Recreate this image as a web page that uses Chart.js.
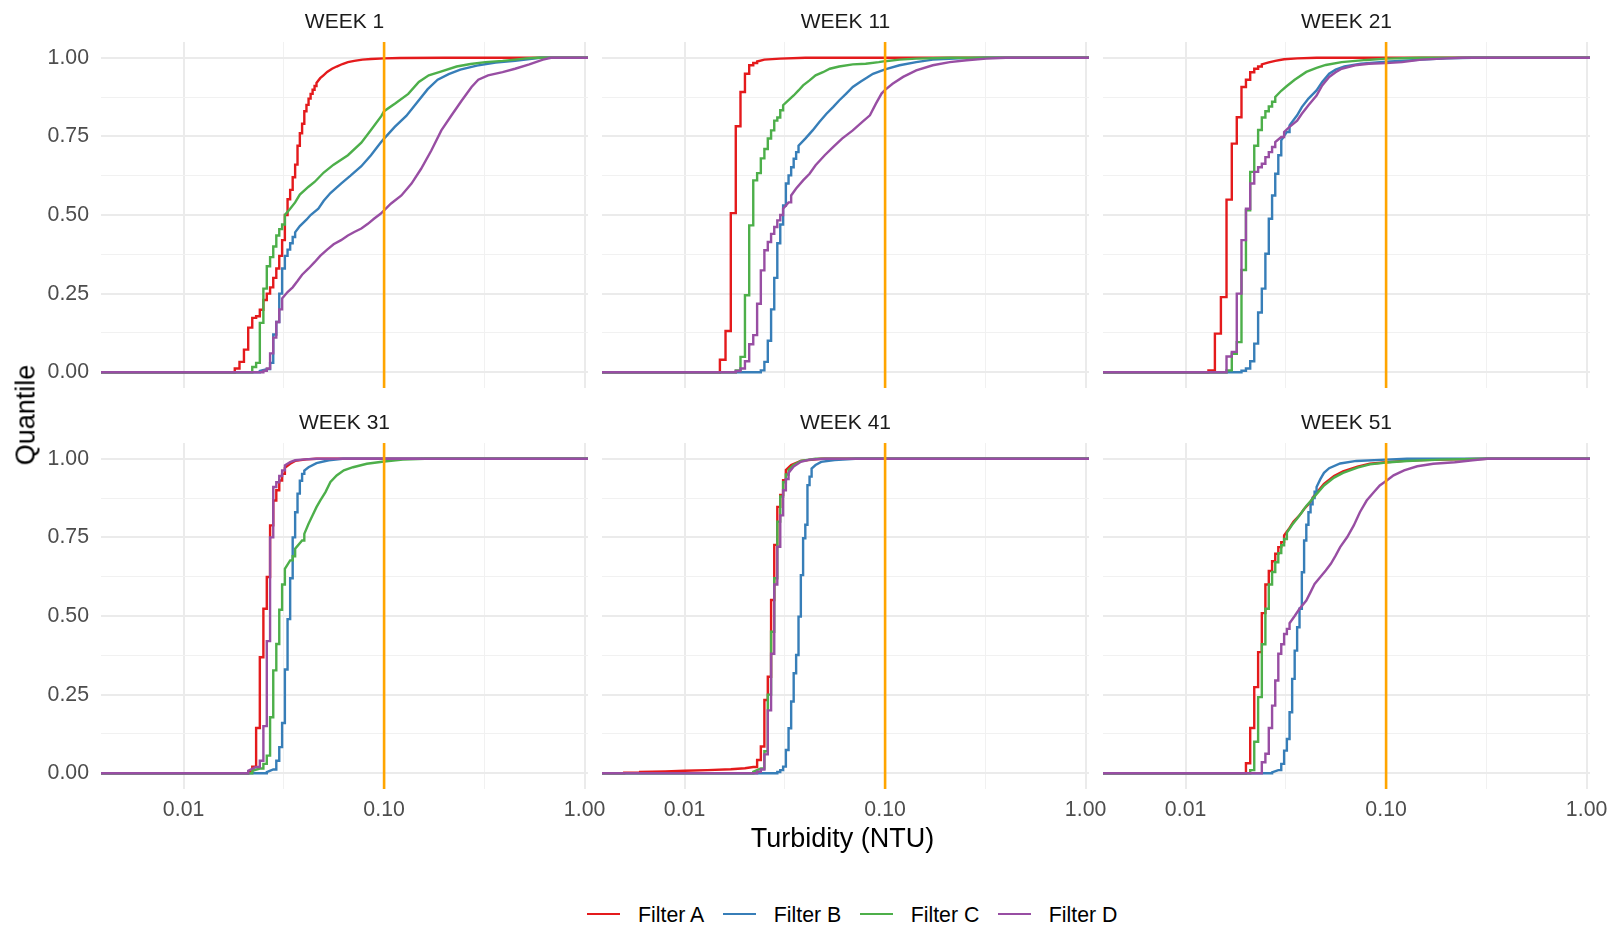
<!DOCTYPE html>
<html>
<head>
<meta charset="utf-8">
<script src="https://cdn.jsdelivr.net/npm/chart.js@4.4.1/dist/chart.umd.min.js"></script>
<style>
html,body{margin:0;padding:0;background:#fff;}
#root{position:relative;width:1611px;height:929px;overflow:hidden;font-family:"Liberation Sans",Arial,sans-serif;background:#fff;}
#root canvas{position:absolute;}
.strip{position:absolute;font-size:21px;line-height:21px;color:#1A1A1A;transform:translateX(-50%);white-space:nowrap;}
.axtitle{position:absolute;font-size:27px;line-height:27px;color:#000;white-space:nowrap;transform:translate(-50%,-50%);}
#legend{position:absolute;left:587px;top:904px;height:22px;display:flex;align-items:center;font-size:21.3px;line-height:22px;color:#000;white-space:nowrap;}
#legend .key{display:inline-block;width:33px;height:2.6px;margin-right:18px;position:relative;top:-1px;}
#legend .lt{margin-right:18.5px;}
</style>
</head>
<body>
<div id="root"></div>
<script>
// ---------------- data ----------------
const weeks = ['WEEK 1', 'WEEK 11', 'WEEK 21', 'WEEK 31', 'WEEK 41', 'WEEK 51'];
const filters = ['Filter A', 'Filter B', 'Filter C', 'Filter D'];
const filterColors = ['#E41A1C', '#377EB8', '#4DAF4A', '#984EA3'];
const threshold = 0.1;                       // vertical reference line (NTU)
const xMajorTicks = [0.01, 0.1, 1];
const xMinorTicks = [0.0316228, 0.316228];
const yMajorTicks = [0, 0.25, 0.5, 0.75, 1];
const yMinorTicks = [0.125, 0.375, 0.625, 0.875];
const xLimits = [0.003873, 1.0399];
const yLimits = [-0.05, 1.05];
const padLow = 1e-4, padHigh = 1e2;          // ECDF padding (-Inf / +Inf)
const stepRes = 0.001;                       // instrument resolution (NTU)

// ECDF steps: [turbidity NTU, quantile]
const wk1_A = [[0.018,0.012],[0.019,0.033],[0.020,0.072],[0.021,0.142],[0.022,0.173],[0.023,0.178],[0.024,0.199],[0.025,0.23],[0.026,0.25],[0.027,0.27],[0.028,0.30],[0.029,0.33],[0.030,0.37],[0.031,0.42],[0.032,0.50],[0.033,0.55],[0.034,0.58],[0.035,0.62],[0.036,0.66],[0.037,0.72],[0.038,0.76],[0.039,0.79],[0.040,0.83],[0.041,0.85],[0.042,0.87],[0.043,0.885],[0.044,0.898],[0.045,0.91],[0.046,0.92],[0.048,0.935],[0.050,0.945],[0.052,0.955],[0.055,0.965],[0.058,0.972],[0.062,0.98],[0.066,0.986],[0.071,0.99],[0.078,0.994],[0.086,0.996],[0.10,0.998],[0.12,0.999],[0.2,1]];
const wk1_B = [[0.024,0.004],[0.026,0.01],[0.027,0.03],[0.028,0.12],[0.029,0.16],[0.030,0.25],[0.031,0.33],[0.032,0.37],[0.033,0.39],[0.034,0.41],[0.035,0.43],[0.036,0.445],[0.038,0.465],[0.041,0.485],[0.043,0.50],[0.047,0.52],[0.050,0.545],[0.054,0.57],[0.061,0.60],[0.068,0.625],[0.077,0.655],[0.086,0.69],[0.096,0.73],[0.10,0.743],[0.113,0.78],[0.129,0.815],[0.147,0.86],[0.165,0.9],[0.185,0.93],[0.21,0.948],[0.24,0.962],[0.29,0.975],[0.36,0.985],[0.45,0.99],[0.52,0.995],[0.6,1]];
const wk1_C = [[0.022,0.017],[0.023,0.03],[0.024,0.157],[0.025,0.266],[0.026,0.337],[0.027,0.366],[0.028,0.40],[0.029,0.435],[0.030,0.455],[0.031,0.47],[0.032,0.50],[0.034,0.52],[0.036,0.54],[0.038,0.565],[0.042,0.59],[0.045,0.605],[0.050,0.635],[0.056,0.66],[0.066,0.69],[0.077,0.73],[0.086,0.77],[0.097,0.815],[0.10,0.83],[0.114,0.855],[0.132,0.885],[0.149,0.923],[0.167,0.944],[0.19,0.955],[0.23,0.972],[0.27,0.98],[0.32,0.986],[0.39,0.99],[0.45,0.994],[0.51,0.998],[0.58,1]];
const wk1_D = [[0.025,0.005],[0.026,0.012],[0.027,0.06],[0.028,0.11],[0.029,0.16],[0.030,0.20],[0.031,0.235],[0.033,0.255],[0.035,0.27],[0.037,0.29],[0.039,0.31],[0.042,0.33],[0.045,0.35],[0.048,0.37],[0.052,0.39],[0.056,0.407],[0.061,0.42],[0.066,0.435],[0.071,0.446],[0.077,0.457],[0.083,0.472],[0.089,0.488],[0.096,0.504],[0.10,0.515],[0.108,0.536],[0.122,0.562],[0.137,0.60],[0.153,0.647],[0.172,0.705],[0.193,0.769],[0.217,0.817],[0.244,0.864],[0.273,0.907],[0.295,0.93],[0.33,0.944],[0.39,0.954],[0.45,0.965],[0.53,0.979],[0.62,0.994],[0.68,1]];

const wk11_A = [[0.015,0.04],[0.016,0.131],[0.017,0.506],[0.018,0.782],[0.019,0.891],[0.020,0.949],[0.021,0.976],[0.022,0.983],[0.023,0.988],[0.025,0.994],[0.030,0.997],[0.040,1]];
const wk11_B = [[0.024,0.006],[0.025,0.033],[0.026,0.10],[0.027,0.2],[0.028,0.3],[0.029,0.41],[0.030,0.47],[0.031,0.53],[0.032,0.6],[0.033,0.626],[0.034,0.652],[0.035,0.679],[0.036,0.70],[0.037,0.72],[0.040,0.743],[0.0435,0.769],[0.047,0.796],[0.051,0.822],[0.055,0.843],[0.059,0.864],[0.064,0.886],[0.069,0.907],[0.075,0.923],[0.081,0.936],[0.087,0.949],[0.10,0.963],[0.118,0.976],[0.143,0.986],[0.173,0.994],[0.235,0.998],[0.32,1]];
const wk11_C = [[0.018,0.006],[0.019,0.049],[0.020,0.245],[0.021,0.467],[0.022,0.61],[0.023,0.633],[0.024,0.68],[0.025,0.71],[0.026,0.743],[0.027,0.769],[0.028,0.80],[0.029,0.81],[0.030,0.833],[0.031,0.849],[0.033,0.865],[0.035,0.88],[0.037,0.896],[0.039,0.912],[0.042,0.928],[0.045,0.944],[0.049,0.954],[0.053,0.965],[0.059,0.972],[0.069,0.979],[0.080,0.981],[0.093,0.986],[0.10,0.989],[0.118,0.994],[0.143,0.997],[0.21,1]];
const wk11_D = [[0.018,0.004],[0.019,0.012],[0.020,0.035],[0.021,0.089],[0.022,0.118],[0.023,0.218],[0.024,0.324],[0.025,0.388],[0.026,0.414],[0.027,0.44],[0.028,0.462],[0.029,0.483],[0.030,0.5],[0.031,0.52],[0.033,0.54],[0.034,0.562],[0.036,0.584],[0.039,0.61],[0.042,0.631],[0.045,0.658],[0.050,0.69],[0.055,0.716],[0.061,0.743],[0.069,0.769],[0.077,0.796],[0.084,0.817],[0.090,0.854],[0.096,0.886],[0.10,0.898],[0.109,0.917],[0.123,0.939],[0.143,0.96],[0.173,0.976],[0.21,0.986],[0.255,0.992],[0.32,0.997],[0.4,1]];

const wk21_A = [[0.013,0.006],[0.014,0.123],[0.015,0.239],[0.016,0.549],[0.017,0.727],[0.018,0.811],[0.019,0.907],[0.020,0.93],[0.021,0.954],[0.022,0.965],[0.023,0.972],[0.024,0.979],[0.026,0.985],[0.028,0.99],[0.031,0.995],[0.036,0.998],[0.045,1]];
const wk21_B = [[0.019,0.005],[0.020,0.012],[0.021,0.035],[0.022,0.091],[0.023,0.19],[0.024,0.266],[0.025,0.377],[0.026,0.488],[0.027,0.562],[0.028,0.631],[0.029,0.69],[0.030,0.737],[0.032,0.764],[0.033,0.785],[0.036,0.817],[0.038,0.843],[0.041,0.87],[0.045,0.896],[0.048,0.923],[0.052,0.949],[0.056,0.962],[0.062,0.972],[0.075,0.981],[0.10,0.987],[0.15,0.994],[0.20,0.998],[0.27,1]];
const wk21_C = [[0.016,0.006],[0.017,0.059],[0.018,0.096],[0.019,0.325],[0.020,0.515],[0.021,0.637],[0.022,0.72],[0.023,0.77],[0.024,0.81],[0.025,0.83],[0.026,0.845],[0.027,0.86],[0.028,0.875],[0.030,0.895],[0.032,0.91],[0.035,0.93],[0.040,0.955],[0.045,0.968],[0.050,0.977],[0.060,0.986],[0.080,0.993],[0.10,0.997],[0.15,1]];
const wk21_D = [[0.016,0.05],[0.017,0.065],[0.018,0.25],[0.019,0.42],[0.020,0.52],[0.021,0.6],[0.022,0.637],[0.023,0.652],[0.024,0.663],[0.025,0.684],[0.026,0.7],[0.027,0.716],[0.028,0.732],[0.030,0.748],[0.031,0.764],[0.033,0.78],[0.036,0.80],[0.038,0.822],[0.041,0.849],[0.045,0.88],[0.048,0.912],[0.052,0.939],[0.056,0.954],[0.060,0.965],[0.070,0.976],[0.082,0.981],[0.10,0.983],[0.12,0.986],[0.15,0.994],[0.20,0.998],[0.24,1]];

const wk31_A = [[0.021,0.005],[0.022,0.021],[0.023,0.144],[0.024,0.369],[0.025,0.523],[0.026,0.624],[0.027,0.788],[0.028,0.867],[0.029,0.9],[0.030,0.931],[0.031,0.952],[0.032,0.971],[0.034,0.984],[0.036,0.993],[0.041,0.998],[0.046,1]];
const wk31_B = [[0.026,0.004],[0.028,0.012],[0.029,0.04],[0.030,0.083],[0.031,0.16],[0.032,0.33],[0.033,0.49],[0.034,0.62],[0.035,0.75],[0.036,0.83],[0.037,0.889],[0.038,0.93],[0.039,0.952],[0.040,0.962],[0.042,0.973],[0.046,0.986],[0.053,0.995],[0.062,1]];
const wk31_C = [[0.022,0.008],[0.024,0.015],[0.025,0.03],[0.026,0.056],[0.027,0.178],[0.028,0.327],[0.029,0.411],[0.030,0.52],[0.031,0.6],[0.032,0.65],[0.034,0.677],[0.035,0.69],[0.036,0.714],[0.039,0.74],[0.040,0.761],[0.042,0.793],[0.044,0.82],[0.046,0.846],[0.048,0.867],[0.051,0.894],[0.054,0.926],[0.058,0.947],[0.063,0.963],[0.070,0.973],[0.082,0.984],[0.10,0.991],[0.124,0.997],[0.16,1]];
const wk31_D = [[0.021,0.008],[0.023,0.02],[0.024,0.04],[0.025,0.15],[0.026,0.42],[0.027,0.75],[0.028,0.91],[0.029,0.925],[0.030,0.945],[0.031,0.963],[0.032,0.979],[0.034,0.989],[0.036,0.995],[0.040,0.998],[0.046,1]];

const wk41_A = [[0.005,0.002],[0.006,0.004],[0.008,0.006],[0.010,0.008],[0.013,0.01],[0.017,0.013],[0.020,0.016],[0.022,0.02],[0.023,0.042],[0.024,0.085],[0.025,0.233],[0.026,0.307],[0.027,0.551],[0.028,0.726],[0.029,0.847],[0.030,0.885],[0.031,0.932],[0.032,0.964],[0.034,0.98],[0.038,0.993],[0.048,1]];
const wk41_B = [[0.029,0.004],[0.030,0.01],[0.031,0.021],[0.032,0.074],[0.033,0.143],[0.034,0.228],[0.035,0.318],[0.036,0.376],[0.037,0.498],[0.038,0.63],[0.039,0.747],[0.040,0.79],[0.041,0.916],[0.042,0.943],[0.043,0.969],[0.045,0.98],[0.048,0.99],[0.056,0.996],[0.071,1]];
const wk41_C = [[0.022,0.005],[0.024,0.015],[0.025,0.07],[0.026,0.25],[0.027,0.45],[0.028,0.62],[0.029,0.8],[0.030,0.88],[0.031,0.925],[0.032,0.95],[0.033,0.965],[0.035,0.98],[0.038,0.993],[0.045,1]];
const wk41_D = [[0.023,0.005],[0.024,0.012],[0.025,0.06],[0.026,0.2],[0.027,0.38],[0.028,0.6],[0.029,0.72],[0.030,0.82],[0.031,0.9],[0.032,0.935],[0.033,0.955],[0.035,0.975],[0.038,0.99],[0.042,0.997],[0.05,1]];

const wk51_A = [[0.020,0.032],[0.021,0.144],[0.022,0.274],[0.023,0.385],[0.024,0.509],[0.025,0.6],[0.026,0.643],[0.027,0.674],[0.028,0.698],[0.029,0.719],[0.030,0.735],[0.031,0.756],[0.033,0.78],[0.0345,0.80],[0.037,0.82],[0.039,0.84],[0.042,0.862],[0.0435,0.88],[0.049,0.92],[0.055,0.945],[0.061,0.96],[0.072,0.975],[0.083,0.984],[0.10,0.989],[0.127,0.994],[0.187,0.997],[0.32,1]];
const wk51_B = [[0.027,0.003],[0.029,0.01],[0.030,0.03],[0.031,0.072],[0.032,0.109],[0.033,0.194],[0.034,0.3],[0.035,0.39],[0.036,0.464],[0.037,0.523],[0.038,0.639],[0.039,0.74],[0.040,0.79],[0.041,0.83],[0.042,0.855],[0.043,0.875],[0.044,0.895],[0.045,0.91],[0.047,0.935],[0.049,0.955],[0.052,0.97],[0.059,0.985],[0.071,0.993],[0.10,0.997],[0.127,1]];
const wk51_C = [[0.021,0.01],[0.022,0.1],[0.023,0.242],[0.024,0.41],[0.025,0.523],[0.026,0.6],[0.027,0.64],[0.028,0.671],[0.029,0.7],[0.030,0.725],[0.031,0.745],[0.032,0.765],[0.034,0.79],[0.036,0.81],[0.038,0.83],[0.040,0.85],[0.043,0.873],[0.049,0.915],[0.055,0.94],[0.061,0.955],[0.072,0.972],[0.083,0.982],[0.10,0.988],[0.127,0.993],[0.187,0.997],[0.32,1]];
const wk51_D = [[0.024,0.035],[0.025,0.062],[0.026,0.144],[0.027,0.215],[0.028,0.295],[0.029,0.38],[0.030,0.41],[0.031,0.443],[0.032,0.459],[0.033,0.477],[0.035,0.5],[0.037,0.523],[0.040,0.549],[0.042,0.576],[0.044,0.602],[0.047,0.624],[0.050,0.645],[0.053,0.666],[0.056,0.692],[0.059,0.719],[0.064,0.751],[0.069,0.788],[0.074,0.83],[0.080,0.867],[0.087,0.894],[0.093,0.915],[0.10,0.929],[0.109,0.947],[0.123,0.963],[0.143,0.976],[0.172,0.984],[0.22,0.989],[0.27,0.995],[0.32,1]];

const weekSeries = [
  [wk1_A, wk1_B, wk1_C, wk1_D],
  [wk11_A, wk11_B, wk11_C, wk11_D],
  [wk21_A, wk21_B, wk21_C, wk21_D],
  [wk31_A, wk31_B, wk31_C, wk31_D],
  [wk41_A, wk41_B, wk41_C, wk41_D],
  [wk51_A, wk51_B, wk51_C, wk51_D]
];

// ---------------- layout ----------------
const PANEL_LEFT = [101, 602, 1103];
const PANEL_TOP = [42, 443];
const PANEL_W = 487, PANEL_H = 346;
const Y_AXIS_W = 101, X_AXIS_H = 50, PAD_R = 26, PAD_V = 28;
const FONT = '"Liberation Sans", Arial, sans-serif';
const TICK_FONT = { family: FONT, size: 21.3 };
const TICK_COLOR = '#4D4D4D';

const root = document.getElementById('root');
const xGrid = [...xMajorTicks, ...xMinorTicks].sort((a, b) => a - b);
const yGrid = [...yMajorTicks, ...yMinorTicks].sort((a, b) => a - b);

const gridColor = ctx => (ctx.tick && ctx.tick.major) ? '#EBEBEB' : '#F1F1F1';
const gridWidth = ctx => (ctx.tick && ctx.tick.major) ? 2 : 1;

// ECDF outline: a vertical riser where consecutive readings are one resolution step apart,
// otherwise the dense staircase is drawn as a direct segment between read points.
function ecdfPath(pairs) {
  const pts = [{ x: padLow, y: 0 }];
  let prevX = null, prevQ = 0;
  pairs.forEach(([x, q], j) => {
    if (j === 0 || x - prevX <= stepRes * 1.05) pts.push({ x: x, y: prevQ });
    pts.push({ x: x, y: q });
    prevX = x; prevQ = q;
  });
  pts.push({ x: padHigh, y: 1 });
  return pts;
}

weeks.forEach((wk, i) => {
  const r = Math.floor(i / 3), c = i % 3;
  const left = PANEL_LEFT[c] - (c === 0 ? Y_AXIS_W : 0);
  const w = PANEL_W + (c === 0 ? Y_AXIS_W : 0) + PAD_R;
  const h = PANEL_H + 2 * PAD_V + (r === 1 ? X_AXIS_H : 0);
  const cv = document.createElement('canvas');
  cv.width = w; cv.height = h;
  cv.style.left = left + 'px'; cv.style.top = (PANEL_TOP[r] - PAD_V) + 'px';
  cv.style.width = w + 'px'; cv.style.height = h + 'px';
  root.appendChild(cv);

  const strip = document.createElement('div');
  strip.className = 'strip';
  strip.textContent = wk;
  strip.style.left = (PANEL_LEFT[c] + PANEL_W / 2) + 'px';
  strip.style.top = (r === 0 ? 10 : 410.5) + 'px';
  root.appendChild(strip);

  const datasets = [{
    label: 'threshold',
    data: [{ x: threshold, y: yLimits[0] }, { x: threshold, y: yLimits[1] }],
    borderColor: '#FFA500', borderWidth: 2.6, pointRadius: 0, fill: false, order: 0
  }];
  weekSeries[i].forEach((pairs, k) => {
    datasets.push({
      label: filters[k],
      data: ecdfPath(pairs),
      borderColor: filterColors[k], borderWidth: 2.4, pointRadius: 0, fill: false,
      tension: 0, order: 4 - k, borderJoinStyle: 'miter', borderCapStyle: 'butt'
    });
  });

  new Chart(cv, {
    type: 'line',
    data: { datasets },
    options: {
      responsive: false, animation: false, devicePixelRatio: 1, events: [],
      layout: { padding: { left: 0, right: PAD_R, top: PAD_V, bottom: PAD_V } },
      plugins: { legend: { display: false }, tooltip: { enabled: false }, title: { display: false } },
      scales: {
        x: {
          type: 'logarithmic', min: xLimits[0], max: xLimits[1],
          border: { display: false },
          grid: { color: gridColor, lineWidth: gridWidth, drawTicks: false },
          ticks: {
            display: r === 1, autoSkip: false, maxRotation: 0, minRotation: 0, padding: 8,
            color: TICK_COLOR, font: TICK_FONT,
            callback: v => xMajorTicks.includes(v) ? v.toFixed(2) : ''
          },
          afterBuildTicks: s => { s.ticks = xGrid.map(v => ({ value: v, major: xMajorTicks.includes(v) })); },
          afterFit: s => { s.height = r === 1 ? X_AXIS_H : 0; }
        },
        y: {
          type: 'linear', min: yLimits[0], max: yLimits[1],
          border: { display: false },
          grid: { color: gridColor, lineWidth: gridWidth, drawTicks: false },
          ticks: {
            display: c === 0, autoSkip: false, padding: 12,
            color: TICK_COLOR, font: TICK_FONT,
            callback: v => yMajorTicks.includes(v) ? v.toFixed(2) : ''
          },
          afterBuildTicks: s => { s.ticks = yGrid.map(v => ({ value: v, major: yMajorTicks.includes(v) })); },
          afterFit: s => { s.width = c === 0 ? Y_AXIS_W : 0; }
        }
      }
    }
  });
});

// axis titles
const yt = document.createElement('div');
yt.className = 'axtitle';
yt.textContent = 'Quantile';
yt.style.left = '25.5px'; yt.style.top = '415px';
yt.style.transform = 'translate(-50%,-50%) rotate(-90deg)';
root.appendChild(yt);

const xt = document.createElement('div');
xt.className = 'axtitle';
xt.textContent = 'Turbidity (NTU)';
xt.style.left = '842.5px'; xt.style.top = '838px';
root.appendChild(xt);

// legend
const lg = document.createElement('div');
lg.id = 'legend';
filters.forEach((f, k) => {
  const key = document.createElement('span');
  key.className = 'key';
  key.style.background = filterColors[k];
  const t = document.createElement('span');
  t.className = 'lt';
  t.textContent = f;
  lg.appendChild(key); lg.appendChild(t);
});
root.appendChild(lg);
</script>
</body>
</html>
